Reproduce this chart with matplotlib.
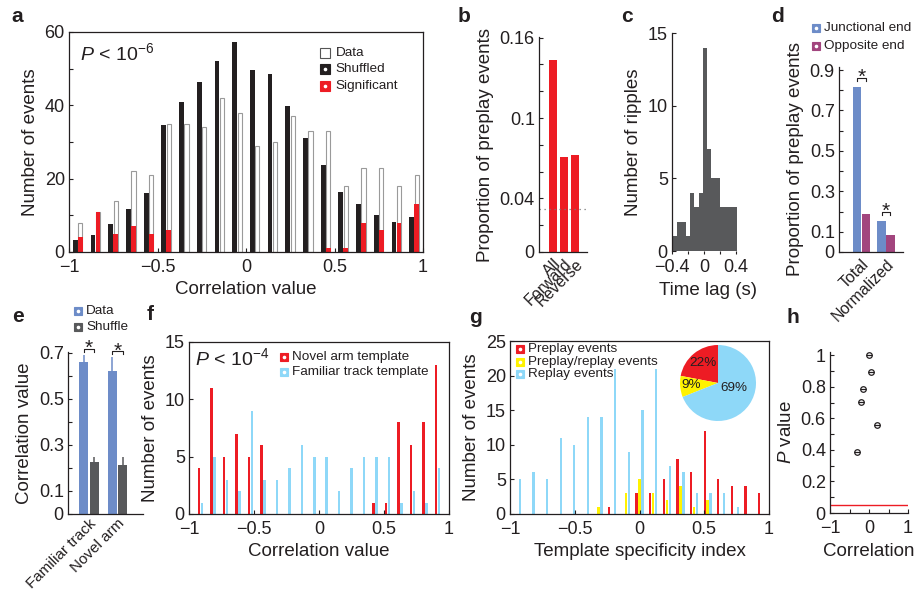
import matplotlib.pyplot as plt
import numpy as np

plt.rcParams['font.family'] = ['Liberation Sans', 'DejaVu Sans']
plt.rcParams['mathtext.fontset'] = 'custom'
plt.rcParams['mathtext.rm'] = 'Liberation Sans'
plt.rcParams['mathtext.it'] = 'Liberation Sans:italic'

INK = '#231f20'
RED = '#ed1c24'
SKY = '#8ed8f8'
BLUE = '#6d8cc8'
PURPLE = '#a2457e'
GREY = '#58595b'
YELLOW = '#fff200'

# a: correlation histogram, 20 bins of 0.1
a_shuffled = [3.4, 4.6, 7.5, 11.7, 16.1, 34.5, 40.8, 46.4, 52.0, 57.3,
              49.5, 48.5, 39.7, 31.0, 23.7, 16.4, 13.1, 10.1, 8.2, 9.5]
a_data = [8, 11, 14, 22, 21, 35, 35, 34, 42, 38,
          29, 30, 37, 33, 33, 18, 23, 23, 18, 21]
a_significant = [4, 11, 5, 7, 5, 6, 0, 0, 0, 0,
                 0, 0, 0, 0, 1, 1, 8, 6, 8, 13]

# b
b_labels = ['All', 'Forward', 'Reverse']
b_values = [0.143, 0.071, 0.0725]
b_chance = 0.0323

# c: time lag histogram
c_counts = [1, 2, 2, 1, 4, 3, 4, 14, 7, 5, 5, 3, 3, 3, 3]

# d
d_groups = ['Total', 'Normalized']
d_junctional = [0.815, 0.155]
d_opposite = [0.19, 0.086]

# e
e_groups = ['Familiar track', 'Novel arm']
e_data = [0.66, 0.62]
e_data_err = [0.03, 0.06]
e_shuffle = [0.227, 0.214]
e_shuffle_err = [0.02, 0.035]

# f: 20 bins
f_novel = [4, 11, 5, 7, 5, 6, 0, 0, 0, 0, 0, 0, 0, 0, 1, 1, 8, 6, 8, 13]
f_familiar = [1, 5, 3, 2, 9, 3, 3, 4, 6, 5, 5, 2, 4, 5, 5, 5, 1, 2, 1, 4]

# g: 19 bins
g_preplay = [0, 0, 0, 0, 0, 0, 0, 1, 0, 3, 3, 5, 8, 6, 12, 5, 4, 4, 3]
g_both = [0, 0, 0, 0, 0, 0, 1, 0, 3, 5, 3, 2, 4, 1, 2, 0, 0, 0, 0]
g_replay = [5, 6, 5, 11, 10, 14, 14, 21, 9, 15, 21, 7, 6, 3, 3, 3, 1, 0, 0]
pie_shares = [22, 9, 69]
pie_text_xy = [(-0.39, 0.53), (-0.72, -0.06), (0.42, -0.14)]

# h
h_corr = [-0.30, -0.20, -0.15, 0.0, 0.055, 0.21]
h_p = [0.386, 0.704, 0.786, 1.0, 0.894, 0.555]
h_alpha = 0.05

W, H = 914, 591
fig = plt.figure(figsize=(W / 100, H / 100), dpi=100)


def panel(left, top, right, bottom):
    return fig.add_axes([left / W, 1 - bottom / H, (right - left) / W, (bottom - top) / H])


def style(ax, box=False):
    for side, sp in ax.spines.items():
        sp.set_color(INK)
        sp.set_linewidth(0.9)
        if not box and side in ('top', 'right'):
            sp.set_visible(False)
    ax.tick_params(which='both', direction='in', length=3, width=0.8, colors=INK,
                   labelsize=13, pad=3, top=False, right=False)
    ax.tick_params(axis='x', pad=5)


def lab(vals):
    return [f'{v:g}'.replace('-', '\u2212') for v in vals]


def slanted(ax, pos, labels, size=11.5, pad=3):
    ax.set_xticks(pos, labels, rotation=45, ha='right', va='top',
                  rotation_mode='anchor', fontsize=size)
    ax.tick_params(axis='x', length=0, pad=pad)


def key(ax, mx, tx, y, color, label, ms=5.5, edge=None):
    ax.plot([mx], [y], 's', ms=ms, mfc=color, mec=edge or color, mew=0.8,
            transform=ax.transAxes, clip_on=False)
    if edge is None:
        ax.plot([mx], [y], 'o', ms=1.6, mfc='white', mec='white',
                transform=ax.transAxes, clip_on=False)
    ax.text(tx, y, label, transform=ax.transAxes, fontsize=9.7, color=INK,
            va='center', ha='left')


def signif(ax, x0, x1, y, ystar, tick):
    ax.plot([x0, x0, x1, x1], [y - tick, y, y, y - tick], color=INK, lw=0.8, clip_on=False)
    ax.annotate('*', (0.5 * (x0 + x1), ystar), xytext=(0, -8.5), textcoords='offset points',
                ha='center', va='baseline', fontsize=15, color=INK, annotation_clip=False)


LBL = dict(fontsize=13.5, color=INK)

# ---- a ----
ax = panel(69, 32, 423, 252)
style(ax, box=True)
ca = np.linspace(-0.95, 0.95, len(a_data))
ax.bar(ca - 0.014, a_shuffled, width=0.027, color=INK, lw=0)
ax.bar(ca + 0.014, a_data, width=0.024, color='white', edgecolor='#9a9a9a', lw=0.8)
ax.bar(ca + 0.014, a_significant, width=0.027, color=RED, lw=0)
ax.set_xlim(-1, 1)
ax.set_ylim(0, 60)
ax.set_xticks([-1, -0.5, 0, 0.5, 1], lab([-1, -0.5, 0, 0.5, 1]))
ax.set_yticks([0, 20, 40, 60])
ax.set_yticks([10, 30, 50], minor=True)
ax.set_xlabel('Correlation value', **LBL)
ax.set_ylabel('Number of events', **LBL)
ax.text(0.031, 0.905, r'$P$ < 10$^{-6}$', transform=ax.transAxes, fontsize=14,
        color=INK, va='center')
key(ax, 0.723, 0.754, 0.903, 'white', 'Data', ms=7, edge='#555555')
key(ax, 0.723, 0.754, 0.830, INK, 'Shuffled', ms=7)
key(ax, 0.723, 0.754, 0.755, RED, 'Significant', ms=7)

# ---- b ----
ax = panel(539, 37, 587, 252)
style(ax)
xb = np.arange(len(b_values))
ax.bar(xb, b_values, width=0.64, color=RED, lw=0)
ax.axhline(b_chance, color='#777777', lw=0.9, ls=(0, (1, 3)))
ax.set_xlim(-1.27, 3.09)
ax.set_ylim(0, 0.1605)
ax.set_yticks([0, 0.04, 0.1, 0.16], ['0', '0.04', '0.1', '0.16'])
ax.set_yticks([0.02, 0.06, 0.08, 0.12, 0.14], minor=True)
slanted(ax, xb, b_labels)
ax.set_ylabel('Proportion of preplay events', **LBL)

# ---- c ----
ax = panel(672, 33, 744, 251)
style(ax)
ax.spines['bottom'].set_visible(False)
edges = np.linspace(-0.385, 0.41, len(c_counts) + 1)
ax.stairs(c_counts, edges, fill=True, color=GREY, lw=0)
ax.set_xlim(-0.4, 0.5)
ax.set_ylim(0, 15)
ax.set_yticks([0, 5, 10, 15])
ax.set_xticks([-0.4, 0, 0.4], lab([-0.4, 0, 0.4]))
ax.set_xticks([-0.2, 0.2], minor=True)
ax.tick_params(axis='x', which='both', direction='out', length=2.5, pad=3.5)
ax.set_xlabel('Time lag (s)', **LBL)
ax.set_ylabel('Number of ripples', **LBL)

# ---- d ----
ax = panel(839, 67, 903, 252)
style(ax)
xd = np.arange(len(d_groups))
ax.bar(xd - 0.18, d_junctional, width=0.35, color=BLUE, lw=0)
ax.bar(xd + 0.18, d_opposite, width=0.35, color=PURPLE, lw=0)
ax.set_xlim(-0.918, 1.694)
ax.set_ylim(0, 0.915)
ax.set_yticks([0, 0.1, 0.3, 0.5, 0.7, 0.9], ['0', '0.1', '0.3', '0.5', '0.7', '0.9'])
ax.set_yticks([0.2, 0.4, 0.6, 0.8], minor=True)
slanted(ax, xd, d_groups)
ax.set_ylabel('Proportion of preplay events', **LBL)
signif(ax, -0.18, 0.18, 0.86, 0.895, 0.015)
signif(ax, 0.82, 1.18, 0.198, 0.232, 0.015)
key(ax, -0.36, -0.234, 1.209, BLUE, 'Junctional end')
key(ax, -0.36, -0.234, 1.115, PURPLE, 'Opposite end')

# ---- e ----
ax = panel(68, 351.7, 143, 514)
style(ax)
xe = np.arange(len(e_groups))
ax.bar(xe - 0.185, e_data, width=0.32, color=BLUE, lw=0)
ax.bar(xe + 0.185, e_shuffle, width=0.32, color=GREY, lw=0)
ax.errorbar(xe - 0.185, e_data, yerr=[np.zeros(2), e_data_err], fmt='none',
            ecolor=BLUE, elinewidth=1.1, capsize=0)
ax.errorbar(xe + 0.185, e_shuffle, yerr=[np.zeros(2), e_shuffle_err], fmt='none',
            ecolor=GREY, elinewidth=1.1, capsize=0)
ax.set_xlim(-0.737, 1.895)
ax.set_ylim(0, 0.705)
ax.set_yticks([0, 0.1, 0.3, 0.5, 0.7], ['0', '0.1', '0.3', '0.5', '0.7'])
ax.set_yticks([0.2, 0.4, 0.6], minor=True)
slanted(ax, xe, e_groups, size=11, pad=1.5)
ax.set_ylabel('Correlation value', **LBL)
signif(ax, -0.185, 0.185, 0.717, 0.745, 0.012)
signif(ax, 0.815, 1.185, 0.706, 0.733, 0.012)
key(ax, 0.129, 0.24, 1.253, BLUE, 'Data')
key(ax, 0.129, 0.24, 1.154, GREY, 'Shuffle')

# ---- f ----
ax = panel(189, 342, 449, 514)
style(ax, box=True)
cf = np.linspace(-0.91, 0.91, len(f_novel))
ax.bar(cf - 0.0115, f_novel, width=0.019, color=RED, lw=0)
ax.bar(cf + 0.0115, f_familiar, width=0.019, color=SKY, lw=0)
ax.set_xlim(-1, 1)
ax.set_ylim(0, 15)
ax.set_yticks([0, 5, 10, 15])
ax.set_xticks([-1, -0.5, 0, 0.5, 1], lab([-1, -0.5, 0, 0.5, 1]))
ax.set_xlabel('Correlation value', **LBL)
ax.set_ylabel('Number of events', **LBL)
ax.text(0.023, 0.905, r'$P$ < 10$^{-4}$', transform=ax.transAxes, fontsize=14,
        color=INK, va='center')
key(ax, 0.3665, 0.396, 0.9145, RED, 'Novel arm template')
key(ax, 0.3665, 0.396, 0.824, SKY, 'Familiar track template')

# ---- g ----
ax = panel(510, 341, 769, 514)
style(ax, box=True)
cg = np.linspace(-1 + 1 / 19, 1 - 1 / 19, len(g_replay))
ax.bar(cg - 0.023, g_preplay, width=0.018, color=RED, lw=0)
ax.bar(cg, g_both, width=0.018, color=YELLOW, lw=0)
ax.bar(cg + 0.023, g_replay, width=0.018, color=SKY, lw=0)
ax.set_xlim(-1, 1)
ax.set_ylim(0, 25)
ax.set_yticks([0, 5, 10, 15, 20, 25])
ax.set_xticks([-1, -0.5, 0, 0.5, 1], lab([-1, -0.5, 0, 0.5, 1]))
ax.set_xlabel('Template specificity index', **LBL)
ax.set_ylabel('Number of events', **LBL)
key(ax, 0.0386, 0.0707, 0.952, RED, 'Preplay events')
key(ax, 0.0386, 0.0707, 0.880, YELLOW, 'Preplay/replay events')
key(ax, 0.0386, 0.0707, 0.809, SKY, 'Replay events')

pie_ax = panel(670.5, 335.5, 765.5, 430.5)
pie_ax.pie(pie_shares, colors=[RED, YELLOW, SKY], startangle=90, counterclock=True,
           wedgeprops=dict(linewidth=0))
for share, (tx, ty) in zip(pie_shares, pie_text_xy):
    pie_ax.text(tx, ty, f'{share}%', ha='center', va='center', fontsize=9.7, color=INK)

# ---- h ----
ax = panel(830, 352, 908, 513)
style(ax)
ax.axhline(h_alpha, color=RED, lw=1)
ax.plot(h_corr, h_p, 'o', ms=4, mfc='white', mec=INK, mew=0.9, clip_on=False)
ax.plot(h_corr, h_p, '_', ms=4, mec=INK, mew=0.9, clip_on=False)
ax.set_xlim(-1, 1)
ax.set_ylim(0, 1.02)
ax.set_yticks([0, 0.2, 0.4, 0.6, 0.8, 1], ['0', '0.2', '0.4', '0.6', '0.8', '1'])
ax.set_yticks([0.1, 0.3, 0.5, 0.7, 0.9], minor=True)
ax.set_xticks([-1, 0, 1], lab([-1, 0, 1]))
ax.set_xticks([-0.5, 0.5], minor=True)
ax.set_xlabel('Correlation', **LBL)
ax.set_ylabel(r'$P$ value', **LBL)

for letter, x, y in [('a', 17, 17), ('b', 464, 17), ('c', 627, 17), ('d', 778, 17),
                     ('e', 18, 317), ('f', 150, 315), ('g', 475, 318), ('h', 793, 318)]:
    fig.text(x / W, 1 - y / H, letter, fontsize=15, fontweight='bold', color=INK,
             ha='center', va='center')

fig.savefig('out.png', dpi=100, facecolor='white')
